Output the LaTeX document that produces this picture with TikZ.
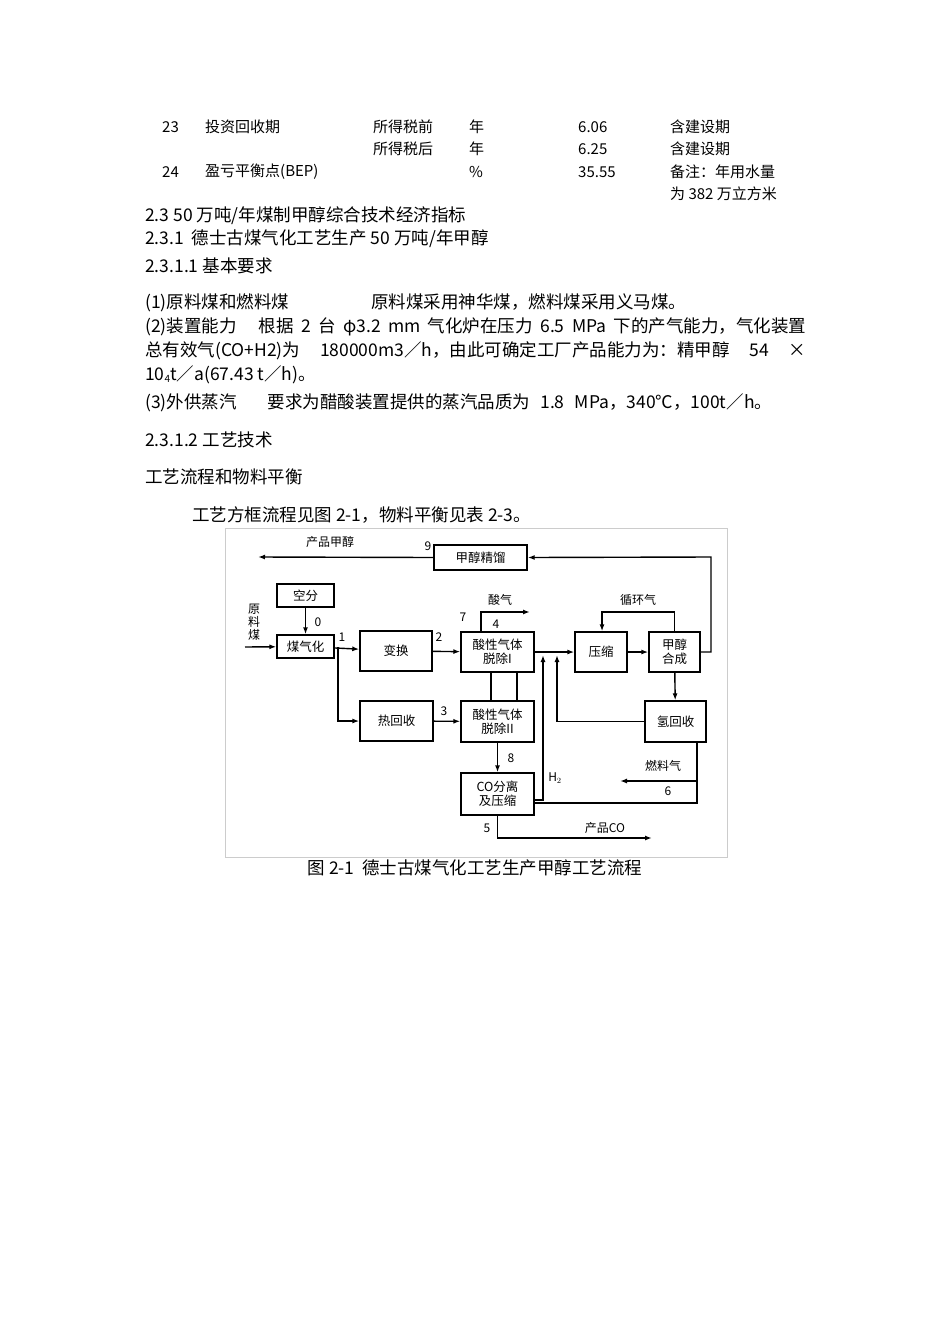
\documentclass[tikz,border=0pt]{standalone}
\usepackage{fontspec}
\setmainfont{Noto Sans CJK SC}
\XeTeXlinebreaklocale "zh"
\XeTeXlinebreakskip=0pt plus 3pt
\usetikzlibrary{arrows.meta}
\begin{document}
\begin{tikzpicture}[x=1pt,y=-1pt,
  txt/.style={anchor=west,inner sep=0,font=\fontsize{15}{18}\selectfont},
  ptxt/.style={anchor=west,inner sep=0,font=\fontsize{17.5}{20}\selectfont},
  box/.style={draw,line width=1.4pt,inner sep=0,align=center,font=\fontsize{12.5}{14}\selectfont},
  lab/.style={inner sep=0,font=\fontsize{12}{14}\selectfont},
  ln/.style={line width=1.4pt},
  ar/.style={line width=1.4pt,-{Latex[length=7pt,width=5pt]}}]
\useasboundingbox[fill=white] (0,0) rectangle (950,1344);
% table rows
\node[txt] (t1) at (162,127) {23};
\node[txt] (t2) at (205,127) {投资回收期};
\node[txt] (t3) at (373,127) {所得税前};
\node[txt] (t4) at (469,127) {年};
\node[txt] (t5) at (578,127) {6.06};
\node[txt] (t6) at (670,127) {含建设期};
\node[txt] (t7) at (373,149) {所得税后};
\node[txt] (t8) at (469,149) {年};
\node[txt] (t9) at (578,149) {6.25};
\node[txt] (t10) at (670,149) {含建设期};
\node[txt] (t11) at (162,172) {24};
\node[txt] (t12) at (205,172) {盈亏平衡点(BEP)};
\node[txt] (t13) at (469,172) {\%};
\node[txt] (t14) at (578,172) {35.55};
\node[txt] (t15) at (670,172) {备注：年用水量};
\node[txt] (t16) at (670,194) {为 382 万立方米};
% paragraphs
\node[ptxt] (p1) at (145,216) {2.3 50 万吨/年煤制甲醇综合技术经济指标};
\node[ptxt] (p2) at (145,239) {2.3.1\ \ 德士古煤气化工艺生产 50 万吨/年甲醇};
\node[ptxt] (p3) at (145,266) {2.3.1.1 基本要求};
\node[ptxt] (p4) at (145,303) {\hbox to 541pt{(1)原料煤和燃料煤\ \ \ 原料煤采用神华煤，燃料煤采用义马煤。}};
\node[ptxt] (p5) at (145,327) {\hbox to 661pt{(2)装置能力\ \ \ 根据 2 台 φ3.2 mm 气化炉在压力 6.5 MPa 下的产气能力，气化装置}};
\node[ptxt] (p6) at (145,351) {\hbox to 661pt{总有效气(CO+H2)为\ \ 180000m3／h，由此可确定工厂产品能力为：精甲醇\ \ 54\ \ ×}};
\node[ptxt] (p7) at (145,375) {10\raisebox{-2pt}{\fontsize{10}{11}\selectfont 4}t／a(67.43 t／h)。};
\node[ptxt] (p8) at (145,403) {\hbox to 627pt{(3)外供蒸汽\ \ \ 要求为醋酸装置提供的蒸汽品质为 1.8 MPa，340℃，100t／h。}};
\node[ptxt] (p9) at (145,440) {2.3.1.2 工艺技术};
\node[ptxt] (p10) at (145,477) {工艺流程和物料平衡};
\node[ptxt] (p11) at (192,515) {工艺方框流程见图 2-1，物料平衡见表 2-3。};
\node[ptxt,anchor=center] (cap) at (475,868) {图 2-1\ \ 德士古煤气化工艺生产甲醇工艺流程};
% frame
\draw[gray!40,line width=0.8pt] (225,528) rectangle (727,857);
% boxes
\node[box,minimum width=93,minimum height=25] (jl) at (480.5,557.5) {甲醇精馏};
\node[box,minimum width=57,minimum height=23] (kf) at (305.5,595.5) {空分};
\node[box,minimum width=57,minimum height=23] (mq) at (305.5,646.5) {煤气化};
\node[box,minimum width=72,minimum height=40] (bh) at (396,651) {变换};
\node[box,minimum width=73,minimum height=40] (s1) at (497.5,652) {酸性气体\\脱除I};
\node[box,minimum width=52,minimum height=40] (ys) at (601,652) {压缩};
\node[box,minimum width=51,minimum height=40] (hc) at (674.5,652) {甲醇\\合成};
\node[box,minimum width=73,minimum height=40] (rh) at (396.5,721) {热回收};
\node[box,minimum width=73,minimum height=41] (s2) at (497.5,721.5) {酸性气体\\脱除II};
\node[box,minimum width=61,minimum height=41] (qh) at (675.5,721.5) {氢回收};
\node[box,minimum width=73,minimum height=42] (co) at (497.5,794) {CO分离\\及压缩};
% coordinates
\coordinate (feed) at (245,647);
\coordinate (br) at (338,647);
\coordinate (sq) at (530,612);
\coordinate (pj) at (258,557);
\coordinate (fuel) at (620,781);
\coordinate (pco) at (652,838);
% connectors
\draw[ar] (feed) -- (mq);
\draw[ar] (kf) -- (mq);
\draw[ar] (mq) -- (bh);
\draw[ar] (br) |- (rh);
\draw[ar] (bh) -- (s1);
\draw[ar] (rh) -- (s2);
\draw[ar] (s1.north -| 481,0) |- (sq);
\draw[ln] (s1.south -| 491,0) -- (s2.north -| 491,0);
\draw[ln] (s1.south -| 517,0) -- (s2.north -| 517,0);
\draw[ar] (s2) -- (co);
\draw[ar] (s1.east) -- (ys.west);
\draw[ar] (co.east |- 0,800) -| (543,655);
\draw[ar] (qh.west) -| (557,655);
\draw[ar] (ys) -- (hc);
\draw[ar] (hc.north) |- (602,612) -- (ys.north -| 602,0);
\draw[ar] (hc) -- (qh);
\draw[ar] (hc.east) -| (711,557) -- (jl.east);
\draw[ar] (jl.west) -- (pj);
\draw[ln] (qh.south -| 697,0) |- (co.east |- 0,803);
\draw[ar] (697,781) -- (fuel);
\draw[ar] (co.south) |- (pco);
% labels
\node[lab] (l0) at (318,622) {0};
\node[lab] (l1) at (342,637) {1};
\node[lab] (l2) at (439,637) {2};
\node[lab] (l3) at (444,711) {3};
\node[lab] (l7) at (463,617) {7};
\node[lab] (l4) at (496,624) {4};
\node[lab] (sqt) at (500,600) {酸气};
\node[lab] (l8) at (511,758) {8};
\node[lab] (h2) at (555,778) {H$_2$};
\node[lab] (xh) at (638,600) {循环气};
\node[lab] (l9) at (428,546) {9};
\node[lab] (cpj) at (330,542) {产品甲醇};
\node[lab] (rlq) at (663,766) {燃料气};
\node[lab] (l6) at (668,791) {6};
\node[lab] (l5) at (487,828) {5};
\node[lab] (pcot) at (605,828) {产品CO};
\node[lab,align=center,font=\fontsize{12}{13}\selectfont] (yl) at (254,622) {原\\料\\煤};
\end{tikzpicture}
\end{document}
